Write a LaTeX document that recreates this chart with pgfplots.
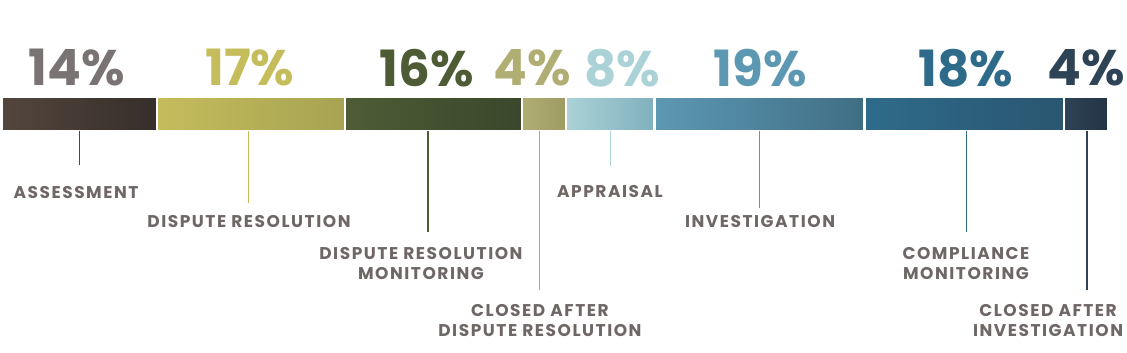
\documentclass[border=0pt]{standalone}
\usepackage{pgfplots}
\pgfplotsset{compat=1.18}
\usepackage{fontspec}
\setmainfont{Poppins}
\newfontfamily\lblfont{Poppins}[LetterSpace=9]
\definecolor{cA}{HTML}{54463D}\definecolor{cAd}{HTML}{352E2A}
\definecolor{cB}{HTML}{C5BC5C}\definecolor{cBd}{HTML}{A6A352}
\definecolor{cC}{HTML}{4E5C36}\definecolor{cCd}{HTML}{3A472B}
\definecolor{cD}{HTML}{B1AE74}\definecolor{cDd}{HTML}{9C9B63}
\definecolor{cE}{HTML}{AAD2D7}\definecolor{cEd}{HTML}{80B0BD}
\definecolor{cF}{HTML}{5D98B3}\definecolor{cFd}{HTML}{3F6E84}
\definecolor{cG}{HTML}{2E6B8B}\definecolor{cGd}{HTML}{2A5670}
\definecolor{cH}{HTML}{2E4355}\definecolor{cHd}{HTML}{233444}
\definecolor{pctgray}{HTML}{7A7373}
\definecolor{lblgray}{HTML}{6E6766}
\pgfplotsset{
  seg/.style 2 args={draw=white, line width=2.5pt, left color=#1, right color=#2, mark=none},
  pct/.style={only marks, mark=*, mark size=0pt, nodes near coords, point meta=explicit symbolic,
    every node near coord/.append style={anchor=center, inner sep=0pt, text=#1, font=\fontsize{50}{50}\selectfont\bfseries}},
  lbl/.style={only marks, mark=*, mark size=0pt, nodes near coords, point meta=explicit symbolic,
    every node near coord/.append style={anchor=center, inner sep=0pt, text=lblgray, font=\lblfont\fontsize{17}{17}\selectfont\bfseries}},
  lead/.style={draw=#1, line width=1.4pt, mark=none},
}
\begin{document}
\begin{tikzpicture}
\begin{axis}[
  scale only axis, width=1127pt, height=352pt,
  xmin=-0.181, xmax=101.72, ymin=0, ymax=352, y dir=reverse,
  hide axis, clip=false,
]
\path (rel axis cs:0,0) (rel axis cs:1,1);
% bar segments: start %, end %
\addplot[seg={cA}{cAd}] coordinates {(0,97) (14,97) (14,131) (0,131)} --cycle;
\addplot[seg={cB}{cBd}] coordinates {(14,97) (31,97) (31,131) (14,131)} --cycle;
\addplot[seg={cC}{cCd}] coordinates {(31,97) (47,97) (47,131) (31,131)} --cycle;
\addplot[seg={cD}{cDd}] coordinates {(47,97) (51,97) (51,131) (47,131)} --cycle;
\addplot[seg={cE}{cEd}] coordinates {(51,97) (59,97) (59,131) (51,131)} --cycle;
\addplot[seg={cF}{cFd}] coordinates {(59,97) (78,97) (78,131) (59,131)} --cycle;
\addplot[seg={cG}{cGd}] coordinates {(78,97) (96,97) (96,131) (78,131)} --cycle;
\addplot[seg={cH}{cHd}] coordinates {(96,97) (100,97) (100,131) (96,131)} --cycle;
% leader lines
\addplot[lead=cA] coordinates {(7,131) (7,165)};
\addplot[lead=cB] coordinates {(22.3,131) (22.3,203)};
\addplot[lead=cC] coordinates {(38.5,131) (38.5,232)};
\addplot[lead=cD] coordinates {(48.6,131) (48.6,290)};
\addplot[lead=cE] coordinates {(55,131) (55,166)};
\addplot[lead=cF] coordinates {(68.5,131) (68.5,208)};
\addplot[lead=cG] coordinates {(87.2,131) (87.2,232)};
\addplot[lead=cH] coordinates {(98.1,131) (98.1,290)};
% percentages
\addplot[pct=pctgray] coordinates {(6.78,68) [14\%]};
\addplot[pct=cB] coordinates {(22.42,68) [17\%]};
\addplot[pct=cC] coordinates {(38.43,68) [16\%]};
\addplot[pct=cD] coordinates {(47.92,68) [4\%]};
\addplot[pct=cE] coordinates {(56.06,68) [8\%]};
\addplot[pct=cF] coordinates {(68.54,68) [19\%]};
\addplot[pct=cG] coordinates {(87.16,68) [18\%]};
\addplot[pct=cH] coordinates {(98.01,68) [4\%]};
% category labels
\addplot[lbl] coordinates {
  (6.69,193) [ASSESSMENT]
  (22.33,222) [DISPUTE RESOLUTION]
  (37.88,254) [DISPUTE RESOLUTION]
  (37.88,274) [MONITORING]
  (48.64,311) [CLOSED AFTER]
  (48.64,331) [DISPUTE RESOLUTION]
  (54.97,192) [APPRAISAL]
  (68.54,222) [INVESTIGATION]
  (87.16,254) [COMPLIANCE]
  (87.16,274) [MONITORING]
  (94.58,311) [CLOSED AFTER]
  (94.58,331) [INVESTIGATION]
};
\end{axis}
\end{tikzpicture}
\end{document}
